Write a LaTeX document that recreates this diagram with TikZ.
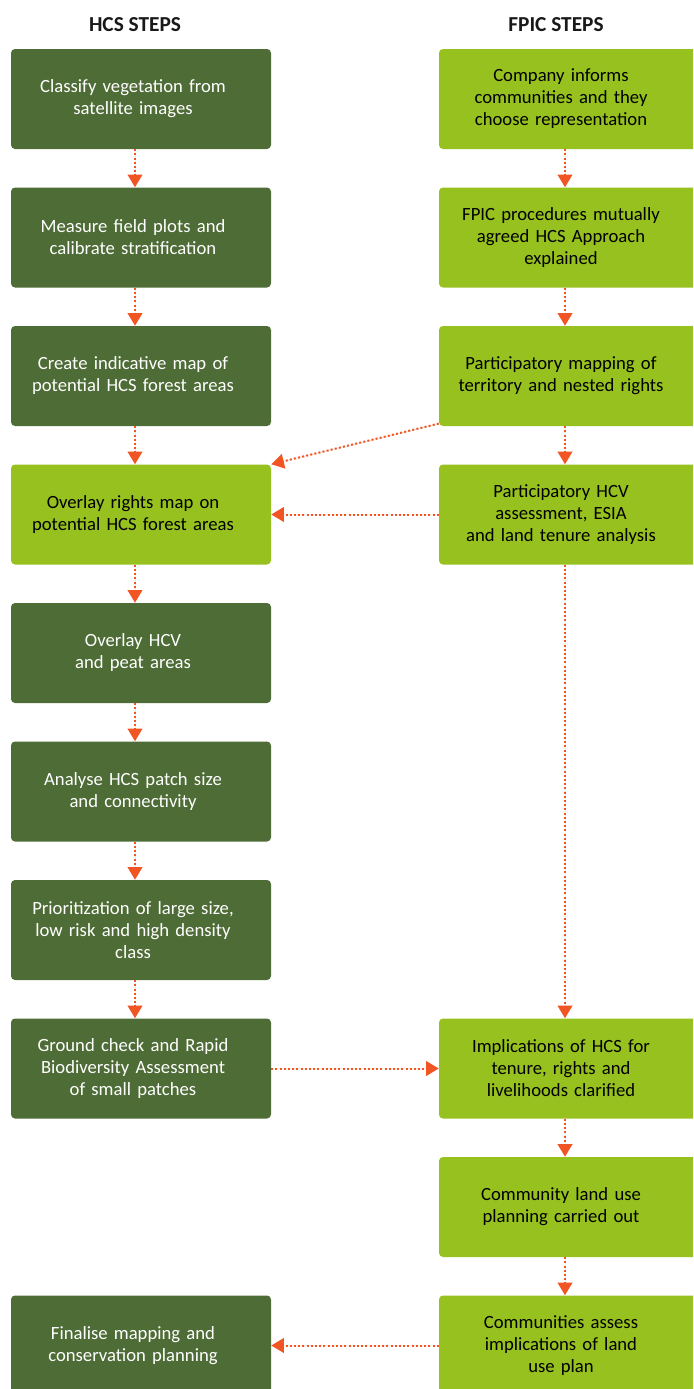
\documentclass[tikz,border=0pt]{standalone}
\usepackage{fontspec}
\setmainfont{Carlito}
\usepackage{tikz}
\usetikzlibrary{arrows.meta}

\definecolor{hcsgreen}{HTML}{4E6C36}
\definecolor{fpicgreen}{HTML}{97C11F}
\definecolor{arrowred}{HTML}{F05523}

\tikzset{stepbox/.style={rectangle, rounded corners=3pt, minimum height=75pt, text width=195pt, inner xsep=0pt, align=center, font=\fontsize{14}{16.5}\selectfont, execute at begin node={\leftskip=0pt plus 1fil\rightskip=12pt plus 1fil\parfillskip=0pt}}}
\tikzset{hcs/.style={stepbox, fill=hcsgreen, text=white}}
\tikzset{fpic/.style={stepbox, fill=fpicgreen, text=black}}
\tikzset{heading/.style={anchor=base, font=\fontsize{16}{19}\selectfont\bfseries, text=black!90}}
\tikzset{flow/.style={-{Triangle[width=11pt,length=9.5pt]}, draw=arrowred, fill=arrowred, line width=1.5pt, dash pattern=on 1.5pt off 1.65pt}}

\begin{document}
\begin{tikzpicture}[x=0.75pt, y=-0.75pt]
\clip (0,0) rectangle (693,1389);
% headings
\node[heading] (hh) at (135,31) {HCS STEPS};
\node[heading] (fh) at (556,31) {FPIC STEPS};
% HCS column
\node[hcs] (h1) at (141,99) {Classify vegetation from\\satellite images};
\node[hcs] (h2) at (141,237.5) {Measure field plots and\\calibrate stratification};
\node[hcs] (h3) at (141,376) {Create indicative map of\\potential HCS forest areas};
\node[fpic] (h4) at (141,514.5) {Overlay rights map on\\potential HCS forest areas};
\node[hcs] (h5) at (141,653) {Overlay HCV\\and peat areas};
\node[hcs] (h6) at (141,791.5) {Analyse HCS patch size\\and connectivity};
\node[hcs] (h7) at (141,930) {Prioritization of large size,\\low risk and high density\\class};
\node[hcs] (h8) at (141,1068.5) {Ground check and Rapid\\Biodiversity Assessment\\of small patches};
\node[hcs] (h10) at (141,1345.5) {Finalise mapping and\\conservation planning};
% FPIC column
\node[fpic] (f1) at (569,99) {Company informs\\communities and they\\choose representation};
\node[fpic] (f2) at (569,237.5) {FPIC procedures mutually\\agreed HCS Approach\\explained};
\node[fpic] (f3) at (569,376) {Participatory mapping of\\territory and nested rights};
\node[fpic] (f4) at (569,514.5) {Participatory HCV\\assessment, ESIA\\and land tenure analysis};
\node[fpic] (f8) at (569,1068.5) {Implications of HCS for\\tenure, rights and\\livelihoods clarified};
\node[fpic] (f9) at (569,1207) {Community land use\\planning carried out};
\node[fpic] (f10) at (569,1345.5) {Communities assess\\implications of land\\use plan};
% HCS arrows
\draw[flow] ([xshift=-4.5pt]h1.south) -- ([xshift=-4.5pt]h2.north);
\draw[flow] ([xshift=-4.5pt]h2.south) -- ([xshift=-4.5pt]h3.north);
\draw[flow] ([xshift=-4.5pt]h3.south) -- ([xshift=-4.5pt]h4.north);
\draw[flow] ([xshift=-4.5pt]h4.south) -- ([xshift=-4.5pt]h5.north);
\draw[flow] ([xshift=-4.5pt]h5.south) -- ([xshift=-4.5pt]h6.north);
\draw[flow] ([xshift=-4.5pt]h6.south) -- ([xshift=-4.5pt]h7.north);
\draw[flow] ([xshift=-4.5pt]h7.south) -- ([xshift=-4.5pt]h8.north);
% FPIC arrows
\draw[flow] ([xshift=-3pt]f1.south) -- ([xshift=-3pt]f2.north);
\draw[flow] ([xshift=-3pt]f2.south) -- ([xshift=-3pt]f3.north);
\draw[flow] ([xshift=-3pt]f3.south) -- ([xshift=-3pt]f4.north);
\draw[flow] ([xshift=-3pt]f4.south) -- ([xshift=-3pt]f8.north);
\draw[flow] ([xshift=-3pt]f8.south) -- ([xshift=-3pt]f9.north);
\draw[flow] ([xshift=-3pt]f9.south) -- ([xshift=-3pt]f10.north);
% across
\draw[flow] ([yshift=2pt]f3.south west) -- (h4.north east);
\draw[flow] (f4) -- (h4);
\draw[flow] (h8) -- (f8);
\draw[flow] (f10) -- (h10);
\end{tikzpicture}
\end{document}
